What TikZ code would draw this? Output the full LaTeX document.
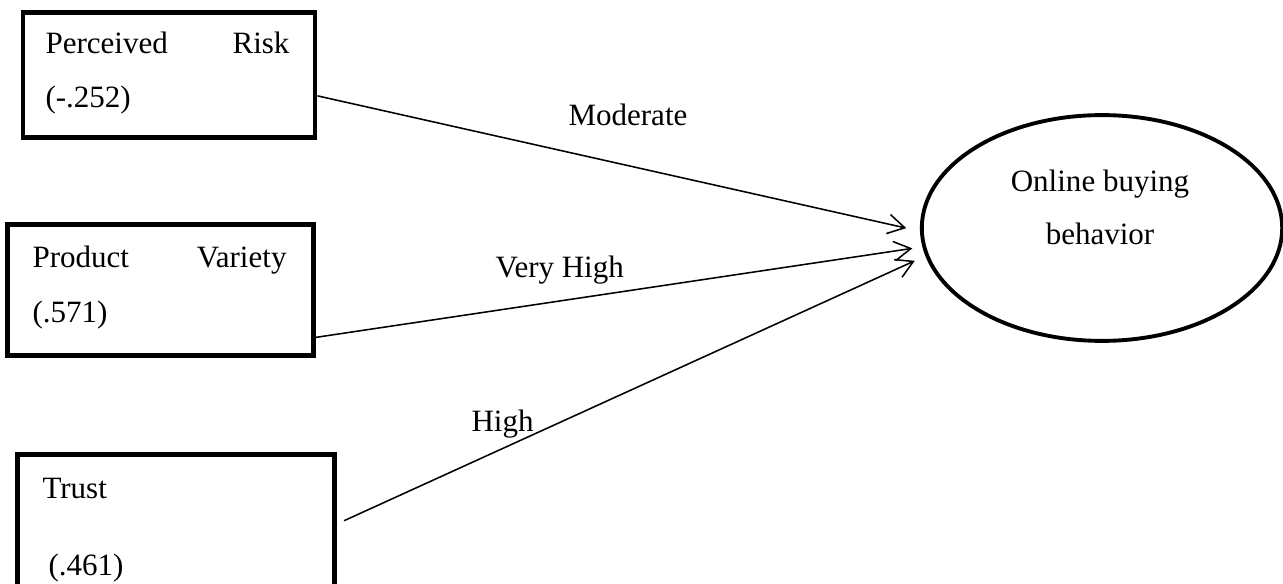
\documentclass[tikz,border=0pt]{standalone}
\usepackage{fontspec}
\setmainfont{Liberation Serif}
\usepackage{tikz}
\usetikzlibrary{arrows.meta,shapes.geometric}

\begin{document}
\begin{tikzpicture}[x=0.0136cm,y=-0.0136cm,>={Straight Barb[length=6.5pt,width=7.5pt]},
  varbox/.style={draw,line width=1.9pt,rectangle,inner sep=0pt},
  txt/.style={inner sep=0pt,anchor=base west,font=\fontsize{12}{14}\selectfont},
  link/.style={->,line width=.6pt}]
\clip (0,0) rectangle (1283,584);
\useasboundingbox (0,0) rectangle (1283,584);

\node[varbox,minimum width=3.97cm,minimum height=1.71cm] (risk) at (169,75) {};
\node[txt] (risk-a) at (45,54) {Perceived};
\node[txt,anchor=base east] (risk-b) at (290,54) {Risk};
\node[txt] (risk-c) at (45,108) {(-.252)};

\node[varbox,minimum width=4.15cm,minimum height=1.77cm] (variety) at (160.5,290) {};
\node[txt] (variety-a) at (32,267) {Product};
\node[txt,anchor=base east] (variety-b) at (287,267) {Variety};
\node[txt] (variety-c) at (32,322) {(.571)};

\node[varbox,minimum width=4.32cm,minimum height=2.11cm] (trust) at (176,532) {};
\node[txt] (trust-a) at (42,498) {Trust};
\node[txt] (trust-c) at (48,575) {(.461)};

\node[draw,ellipse,line width=1.5pt,minimum width=4.9cm,minimum height=3.07cm]
  (buy) at (1102,228) {};
\node[txt,anchor=base] (buy-a) at (1100,192) {Online buying};
\node[txt,anchor=base] (buy-b) at (1100,245) {behavior};

\draw[link,shorten >=5.4pt] (risk.-8.6) -- (buy.181.6);
\draw[link,shorten >=3.9pt] (variety.-17.5) -- (buy.186.4);
\draw[link,shorten >=4.5pt] ([xshift=2.6pt]trust.4.1) -- (buy.189.8);

\node[txt] (moderate) at (568,126) {Moderate};
\node[txt] (veryhigh) at (495,277) {Very High};
\node[txt] (high) at (471,431) {High};
\end{tikzpicture}
\end{document}
